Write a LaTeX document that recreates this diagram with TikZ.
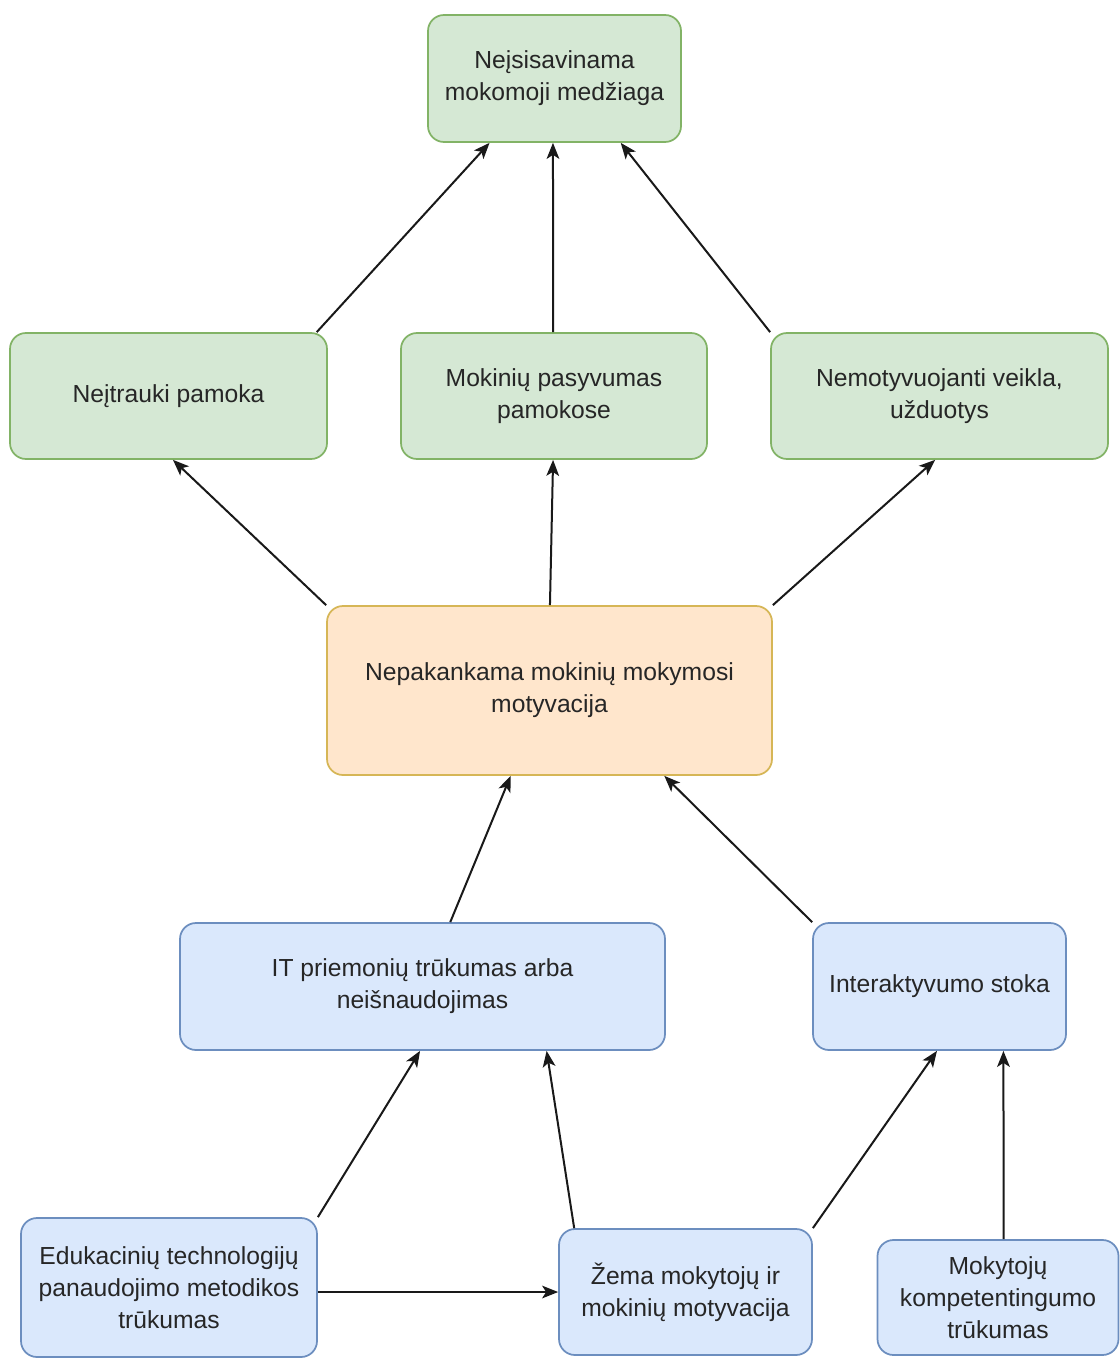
\documentclass[tikz,border=0pt]{standalone}
\usepackage{fontspec}
\setmainfont{Liberation Sans}
\usetikzlibrary{arrows.meta,calc}
\definecolor{gfill}{HTML}{D5E8D4}
\definecolor{gline}{HTML}{82B366}
\definecolor{bfill}{HTML}{DAE8FC}
\definecolor{bline}{HTML}{6C8EBF}
\definecolor{ofill}{HTML}{FFE6CC}
\definecolor{oline}{HTML}{D6B656}
\definecolor{txt}{HTML}{262626}
\begin{document}
\begin{tikzpicture}[x=0.75pt,y=-0.75pt,
  box/.style={rectangle,rounded corners=12pt,line width=1.3pt,align=center,
    inner sep=0pt,text=txt,font=\fontsize{18.5}{24}\selectfont},
  gbox/.style={box,fill=gfill,draw=gline},
  bbox/.style={box,fill=bfill,draw=bline},
  obox/.style={box,fill=ofill,draw=oline},
  arr/.style={line width=1.5pt,draw=black!90,-{Stealth[length=12pt,width=9.5pt,inset=3pt]}}]
\useasboundingbox[fill=white] (0,0) rectangle (1120,1359);

\node[gbox,minimum width=189.75pt,minimum height=95.25pt] (top) at (554.5,78.5) {Neįsisavinama\\mokomoji medžiaga};
\node[gbox,minimum width=237.75pt,minimum height=94.5pt] (inv) at (168.5,396) {Neįtrauki pamoka};
\node[gbox,minimum width=229.5pt,minimum height=94.5pt] (pas) at (554,396) {Mokinių pasyvumas\\pamokose};
\node[gbox,minimum width=252.75pt,minimum height=94.5pt] (nem) at (939.5,396) {Nemotyvuojanti veikla,\\užduotys};
\node[obox,minimum width=333.75pt,minimum height=126.75pt] (mot) at (549.5,690.5) {Nepakankama mokinių mokymosi\\motyvacija};
\node[bbox,minimum width=363.75pt,minimum height=95.25pt] (it) at (422.5,986.5) {IT priemonių trūkumas arba\\neišnaudojimas};
\node[bbox,minimum width=189.75pt,minimum height=95.25pt] (int) at (939.5,986.5) {Interaktyvumo stoka};
\node[bbox,minimum width=222pt,minimum height=104.25pt] (edu) at (169,1287.5) {Edukacinių technologijų\\panaudojimo metodikos\\trūkumas};
\node[bbox,minimum width=189.75pt,minimum height=94.5pt] (zem) at (685.5,1292) {Žema mokytojų ir\\mokinių motyvacija};
\node[bbox,minimum width=180.75pt,minimum height=86.25pt] (kom) at (998,1297.5) {Mokytojų\\kompetentingumo\\trūkumas};

% top level
\draw[arr] ($(inv.north west)!0.965!(inv.north east)$) -- ($(top.south west)!0.245!(top.south east)$);
\draw[arr] ($(pas.north west)!0.497!(pas.north east)$) -- ($(top.south west)!0.494!(top.south east)$);
\draw[arr] ($(nem.north west)!0.0!(nem.north east)$) -- ($(top.south west)!0.76!(top.south east)$);
% middle
\draw[arr] ($(mot.north west)!0.0!(mot.north east)$) -- ($(inv.south west)!0.514!(inv.south east)$);
\draw[arr] ($(mot.north west)!0.501!(mot.north east)$) -- ($(pas.south west)!0.497!(pas.south east)$);
\draw[arr] ($(mot.north west)!1.0!(mot.north east)$) -- ($(nem.south west)!0.487!(nem.south east)$);
% lower
\draw[arr] ($(it.north west)!0.557!(it.north east)$) -- ($(mot.south west)!0.413!(mot.south east)$);
\draw[arr] ($(int.north west)!0.0!(int.north east)$) -- ($(mot.south west)!0.757!(mot.south east)$);
% bottom
\draw[arr] ($(edu.north west)!1.0!(edu.north east)$) -- ($(it.south west)!0.495!(it.south east)$);
\draw[arr] ($(zem.north west)!0.063!(zem.north east)$) -- ($(it.south west)!0.755!(it.south east)$);
\draw[arr] ($(zem.north west)!1.0!(zem.north east)$) -- ($(int.south west)!0.49!(int.south east)$);
\draw[arr] ($(kom.north west)!0.523!(kom.north east)$) -- ($(int.south west)!0.751!(int.south east)$);
\draw[arr] (edu.east |- zem.west) -- (zem.west);
\end{tikzpicture}
\end{document}
